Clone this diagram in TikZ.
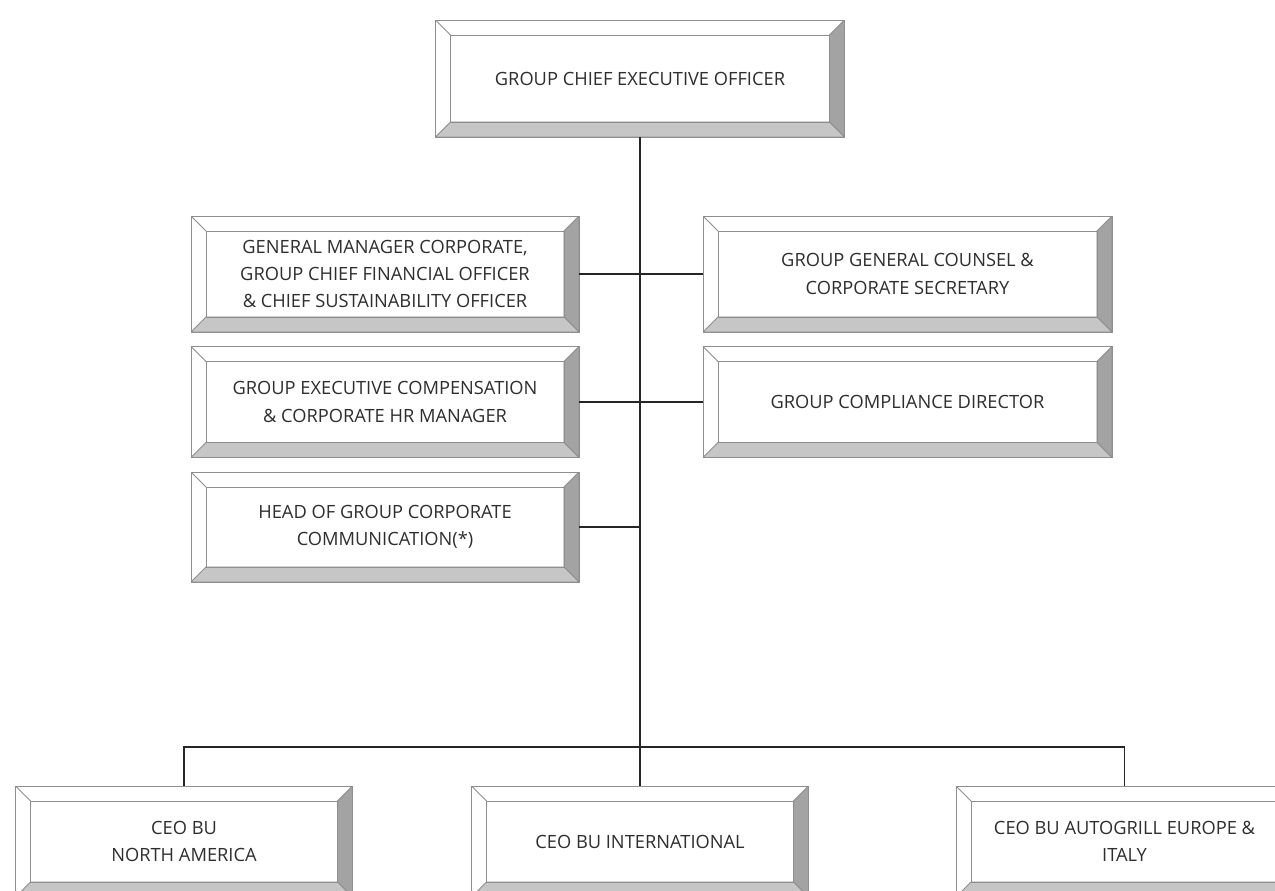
\documentclass[tikz,border=0pt]{standalone}
\usepackage{fontspec}
\setmainfont{Open Sans}
\usepackage{tikz}

\definecolor{edge}{HTML}{8E8E8E}
\definecolor{bevdark}{HTML}{A3A3A3}
\definecolor{bevlight}{HTML}{C6C6C6}
\definecolor{ink}{HTML}{2E2E2E}
\newcommand{\boxfont}{\fontsize{10.4}{15.6}\selectfont}

\begin{document}
\begin{tikzpicture}[x=0.02cm,y=-0.02cm]
\tikzstyle{bevel}=[rectangle,draw=edge,fill=white,line width=0.5pt,inner sep=0pt,align=center,text=ink,font=\boxfont,
  path picture={
    \path[fill=bevdark,draw=edge,line width=0.5pt] (path picture bounding box.north east)
      -- ([shift={(-15,15)}]path picture bounding box.north east)
      -- ([shift={(-15,-15)}]path picture bounding box.south east)
      -- (path picture bounding box.south east) -- cycle;
    \path[fill=bevlight,draw=edge,line width=0.5pt] (path picture bounding box.south west)
      -- ([shift={(15,-15)}]path picture bounding box.south west)
      -- ([shift={(-15,-15)}]path picture bounding box.south east)
      -- (path picture bounding box.south east) -- cycle;
    \draw[edge,line width=0.5pt] (path picture bounding box.north west)
      -- ([shift={(15,15)}]path picture bounding box.north west);
    \draw[edge,line width=0.5pt] ([shift={(15,15)}]path picture bounding box.north west)
      rectangle ([shift={(-15,-15)}]path picture bounding box.south east);
  }]
\tikzstyle{wide}=[minimum width=8.18cm]
\tikzstyle{narrow}=[minimum width=7.76cm]
\tikzstyle{unit}=[minimum width=6.74cm,minimum height=2.22cm]
\tikzstyle{link}=[draw=black!85,line width=0.8pt]

\useasboundingbox (0,0) rectangle (1275,890);
\clip (0,0) rectangle (1275,890);

% top
\node [bevel,wide,minimum height=2.34cm] (ceo) at (640,78.5) {GROUP CHIEF EXECUTIVE OFFICER};

% staff functions
\node [bevel,narrow,minimum height=2.32cm] (gm) at (385,274) {GENERAL MANAGER CORPORATE,\\GROUP CHIEF FINANCIAL OFFICER\\\& CHIEF SUSTAINABILITY OFFICER};
\node [bevel,wide,minimum height=2.32cm] (gc) at (907.5,274) {GROUP GENERAL COUNSEL \&\\CORPORATE SECRETARY};
\node [bevel,narrow,minimum height=2.22cm] (hr) at (385,402) {GROUP EXECUTIVE COMPENSATION\\\& CORPORATE HR MANAGER};
\node [bevel,wide,minimum height=2.22cm] (comp) at (907.5,402) {GROUP COMPLIANCE DIRECTOR};
\node [bevel,narrow,minimum height=2.2cm] (comm) at (385,527) {HEAD OF GROUP CORPORATE\\COMMUNICATION(*)};

% business units
\node [bevel,unit] (na) at (184,841.5) {CEO BU\\NORTH AMERICA};
\node [bevel,unit] (intl) at (640,841.5) {CEO BU INTERNATIONAL};
\node [bevel,unit] (eu) at (1124.5,841.5) {CEO BU AUTOGRILL EUROPE \&\\ITALY};

\coordinate (bus) at (640,747);

\draw [link] (ceo.south) -- (intl.north);
\draw [link] (gm.east) -- (gc.west);
\draw [link] (hr.east) -- (comp.west);
\draw [link] (comm.east) -- (comm.east -| ceo.south);
\draw [link] (na.north) -- (na.north |- bus) -| (eu.north);
\end{tikzpicture}
\end{document}
